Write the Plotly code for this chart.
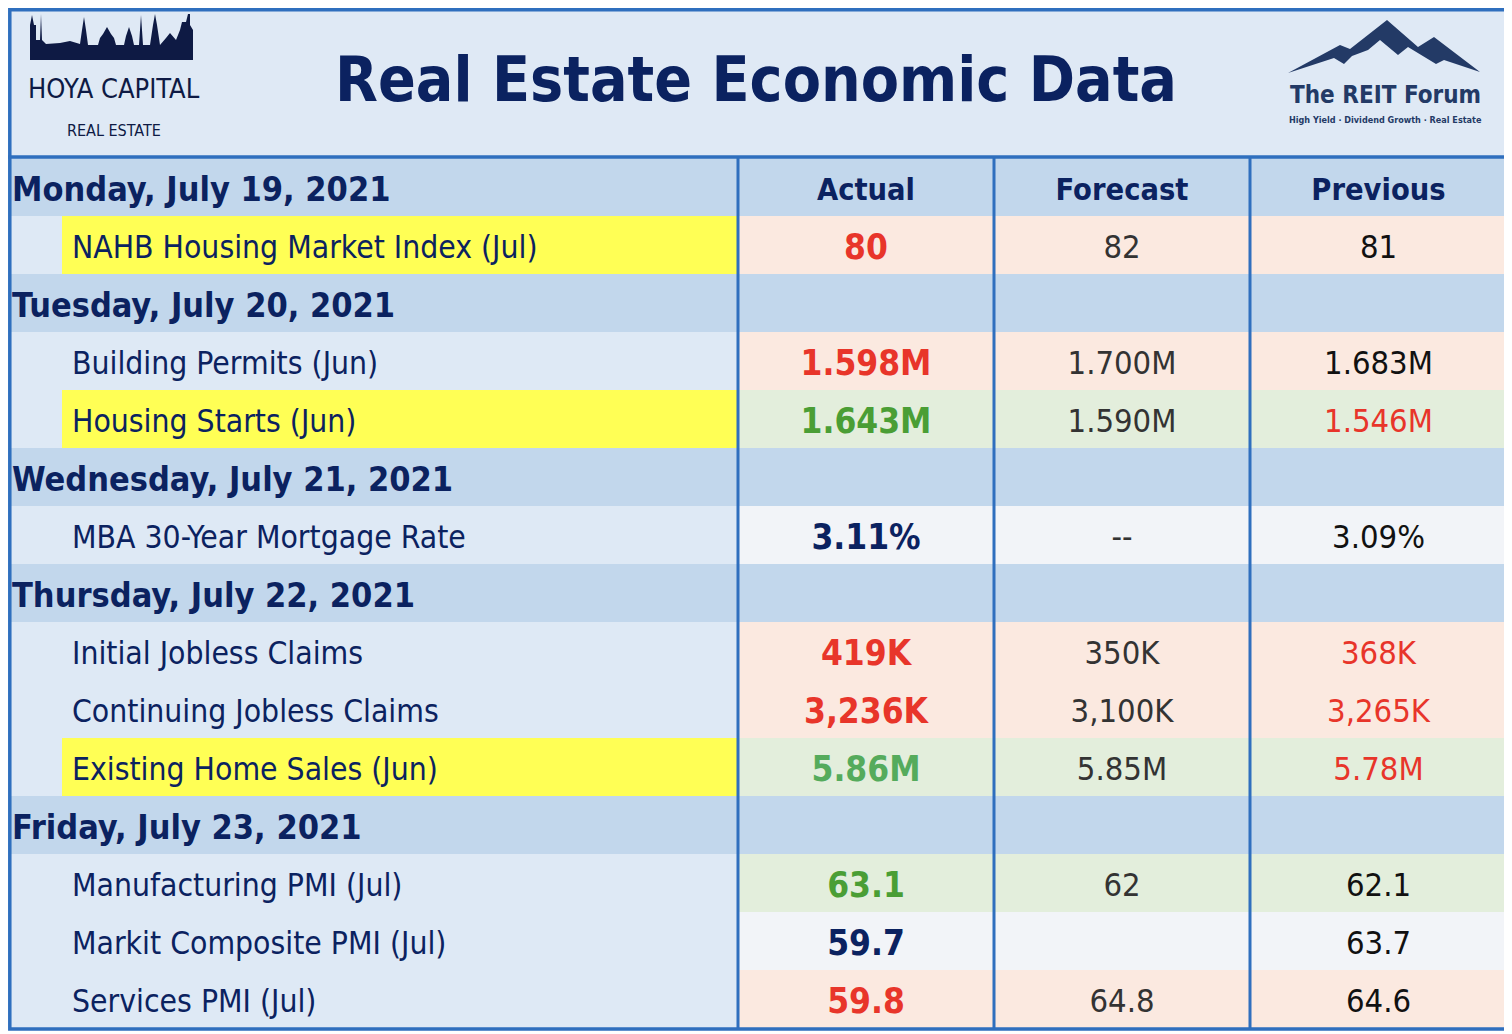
import plotly.graph_objects as go

# ---------------- data ----------------
row_labels = [
    "Monday, July 19, 2021",
    "NAHB Housing Market Index (Jul)",
    "Tuesday, July 20, 2021",
    "Building Permits (Jun)",
    "Housing Starts (Jun)",
    "Wednesday, July 21, 2021",
    "MBA 30-Year Mortgage Rate",
    "Thursday, July 22, 2021",
    "Initial Jobless Claims",
    "Continuing Jobless Claims",
    "Existing Home Sales (Jun)",
    "Friday, July 23, 2021",
    "Manufacturing PMI (Jul)",
    "Markit Composite PMI (Jul)",
    "Services PMI (Jul)",
]
row_is_day = [True, False, True, False, False, True, False, True, False, False, False, True, False, False, False]
highlight = [False, True, False, False, True, False, False, False, False, False, True, False, False, False, False]
actual = ["", "80", "", "1.598M", "1.643M", "", "3.11%", "", "419K", "3,236K", "5.86M", "", "63.1", "59.7", "59.8"]
forecast = ["", "82", "", "1.700M", "1.590M", "", "--", "", "350K", "3,100K", "5.85M", "", "62", "", "64.8"]
previous = ["", "81", "", "1.683M", "1.546M", "", "3.09%", "", "368K", "3,265K", "5.78M", "", "62.1", "63.7", "64.6"]
actual_tone = ["", "neg", "", "neg", "pos", "", "neu", "", "neg", "neg", "pos2", "", "pos", "neu", "neg"]
previous_tone = ["", "", "", "", "neg", "", "", "", "neg", "neg", "neg", "", "", "", ""]
col_headers = ["Actual", "Forecast", "Previous"]
title = "Real Estate Economic Data"

# ---------------- style ----------------
W, H = 1512, 1034
OFF = 8  # page body margin
TABLE_TOP = 158
ROW_H = 58
TEXT_DY = 5
COL_EDGES = [5, 738, 994, 1250, 1507]
HILITE_X = 62
BORDER = "#2f6fbe"
NAVY = "#0b2260"
FONT = "DejaVu Sans Condensed, Liberation Sans Narrow, Arial Narrow, sans-serif"
BG_HEADER = "#dfe9f5"
BG_DAY = "#c2d7ec"
BG_LABEL = "#dee9f5"
YELLOW = "#ffff55"
TONE_BG = {"neg": "#fbe9e0", "pos": "#e3eedc", "pos2": "#e3eedc", "neu": "#f2f4f8", "": BG_DAY}
TONE_TXT = {"neg": "#e8352a", "pos": "#4a9e35", "pos2": "#55ab5c", "neu": NAVY, "": NAVY}
PREV_TXT = {"neg": "#e8352a", "": "#111111"}

n = len(row_labels)
row_top = [TABLE_TOP + i * ROW_H for i in range(n)]
text_y = [t + ROW_H / 2 + TEXT_DY for t in row_top]
col_mid = [(COL_EDGES[k] + COL_EDGES[k + 1]) / 2 for k in range(4)]

shapes = []
def rect(x0, y0, x1, y1, fill):
    shapes.append(dict(type="rect", xref="x", yref="y", x0=x0, y0=y0, x1=x1, y1=y1,
                       fillcolor=fill, line=dict(width=0), layer="below"))

# header band
rect(3, 3, 1509, TABLE_TOP, BG_HEADER)
# rows
for i in range(n):
    t, b = row_top[i], row_top[i] + ROW_H
    if row_is_day[i]:
        rect(COL_EDGES[0], t, COL_EDGES[4], b, BG_DAY)
    else:
        rect(COL_EDGES[0], t, COL_EDGES[1], b, BG_LABEL)
        if highlight[i]:
            rect(HILITE_X, t, COL_EDGES[1], b, YELLOW)
        rect(COL_EDGES[1], t, COL_EDGES[4], b, TONE_BG[actual_tone[i]])

table_bottom = TABLE_TOP + n * ROW_H
# grid lines
for xv in COL_EDGES[1:4]:
    shapes.append(dict(type="line", xref="x", yref="y", x0=xv, x1=xv, y0=TABLE_TOP, y1=table_bottom,
                       line=dict(color=BORDER, width=3)))
shapes.append(dict(type="line", xref="x", yref="y", x0=3, x1=1509, y0=TABLE_TOP - 1, y1=TABLE_TOP - 1,
                   line=dict(color=BORDER, width=3.5)))
shapes.append(dict(type="rect", xref="x", yref="y", x0=OFF + 1.8, x1=1507, y0=OFF + 1.8, y1=table_bottom + 1,
                   line=dict(color=BORDER, width=3.5), fillcolor="rgba(0,0,0,0)"))

# Hoya Capital skyline (decorative logo)
skyline = ("M30,60 L30,25 L32,15 L34,25 L36,25 L36,40 L40,40 L41,14 L42,40 L46,44 L60,43 L70,41 L80,44 "
           "L82,30 L84,17 L86,30 L88,45 L98,45 L100,38 L103,34 L107,27 L111,34 L114,38 L116,45 L124,45 "
           "L126,36 L129,27 L132,36 L134,45 L139,45 L141,15 L143,45 L150,45 L153,25 L155,14 L157,25 "
           "L160,45 L166,38 L170,33 L176,40 L180,30 L182,22 L186,22 L188,14 L190,14 L190,25 L193,30 L193,60 Z")
shapes.append(dict(type="path", xref="x", yref="y", path=skyline, fillcolor="#0e1a44", line=dict(width=0)))
# REIT Forum mountain (decorative logo)
mountain = ("M1288,73 L1340,45 L1350,49 L1387,20 L1418,47 L1434,37 L1480,72 L1444,60 L1436,64 "
            "L1408,47 L1398,55 L1380,40 L1368,50 L1352,56 L1344,64 L1334,58 Z")
shapes.append(dict(type="path", xref="x", yref="y", path=mountain, fillcolor="#233a66", line=dict(width=0)))

fig = go.Figure()

# row labels
fig.add_trace(go.Scatter(
    x=[12 if d else 72 for d in row_is_day], y=text_y, mode="text",
    text=[f"<b>{s}</b>" if d else s for s, d in zip(row_labels, row_is_day)],
    textposition="middle right",
    textfont=dict(family=FONT, size=[34 if d else 31.6 for d in row_is_day], color=NAVY),
    hoverinfo="skip", showlegend=False))

# column headers
fig.add_trace(go.Scatter(
    x=col_mid[1:], y=[text_y[0]] * 3, mode="text",
    text=[f"<b>{h}</b>" for h in col_headers], textposition="middle center",
    textfont=dict(family=FONT, size=30.5, color=NAVY), hoverinfo="skip", showlegend=False))

# actual
fig.add_trace(go.Scatter(
    x=[col_mid[1]] * n, y=text_y, mode="text",
    text=[f"<b>{v}</b>" if v else "" for v in actual], textposition="middle center",
    textfont=dict(family=FONT, size=35, color=[TONE_TXT[t] for t in actual_tone]),
    hoverinfo="skip", showlegend=False))
# forecast
fig.add_trace(go.Scatter(
    x=[col_mid[2]] * n, y=text_y, mode="text", text=forecast, textposition="middle center",
    textfont=dict(family=FONT, size=32.5, color="#333333"), hoverinfo="skip", showlegend=False))
# previous
fig.add_trace(go.Scatter(
    x=[col_mid[3]] * n, y=text_y, mode="text", text=previous, textposition="middle center",
    textfont=dict(family=FONT, size=32.5, color=[PREV_TXT[t] for t in previous_tone]),
    hoverinfo="skip", showlegend=False))

annotations = [
    dict(x=756, y=79, text=f"<b>{title}</b>", showarrow=False, xref="x", yref="y",
         font=dict(family=FONT, size=62, color=NAVY), xanchor="center", yanchor="middle"),
    dict(x=114, y=88, text="HOYA CAPITAL", showarrow=False, xref="x", yref="y",
         font=dict(family=FONT, size=27, color="#0e1a44"), xanchor="center", yanchor="middle"),
    dict(x=114, y=130, text="REAL ESTATE", showarrow=False, xref="x", yref="y",
         font=dict(family=FONT, size=16, color="#0e1a44"), xanchor="center", yanchor="middle"),
    dict(x=1385, y=95, text="<b>The REIT Forum</b>", showarrow=False, xref="x", yref="y",
         font=dict(family=FONT, size=24, color="#233a66"), xanchor="center", yanchor="middle"),
    dict(x=1385, y=120, text="<b>High Yield · Dividend Growth · Real Estate</b>", showarrow=False,
         xref="x", yref="y", font=dict(family=FONT, size=9, color="#233a66"),
         xanchor="center", yanchor="middle"),
]

fig.update_layout(
    width=W - OFF, height=H - OFF, margin=dict(l=0, r=0, t=0, b=0),
    paper_bgcolor="white", plot_bgcolor="white",
    xaxis=dict(range=[OFF, W], visible=False, fixedrange=True),
    yaxis=dict(range=[H, OFF], visible=False, fixedrange=True),
    shapes=shapes, annotations=annotations,
)

fig.write_html("out.html", config={"displayModeBar": False})
